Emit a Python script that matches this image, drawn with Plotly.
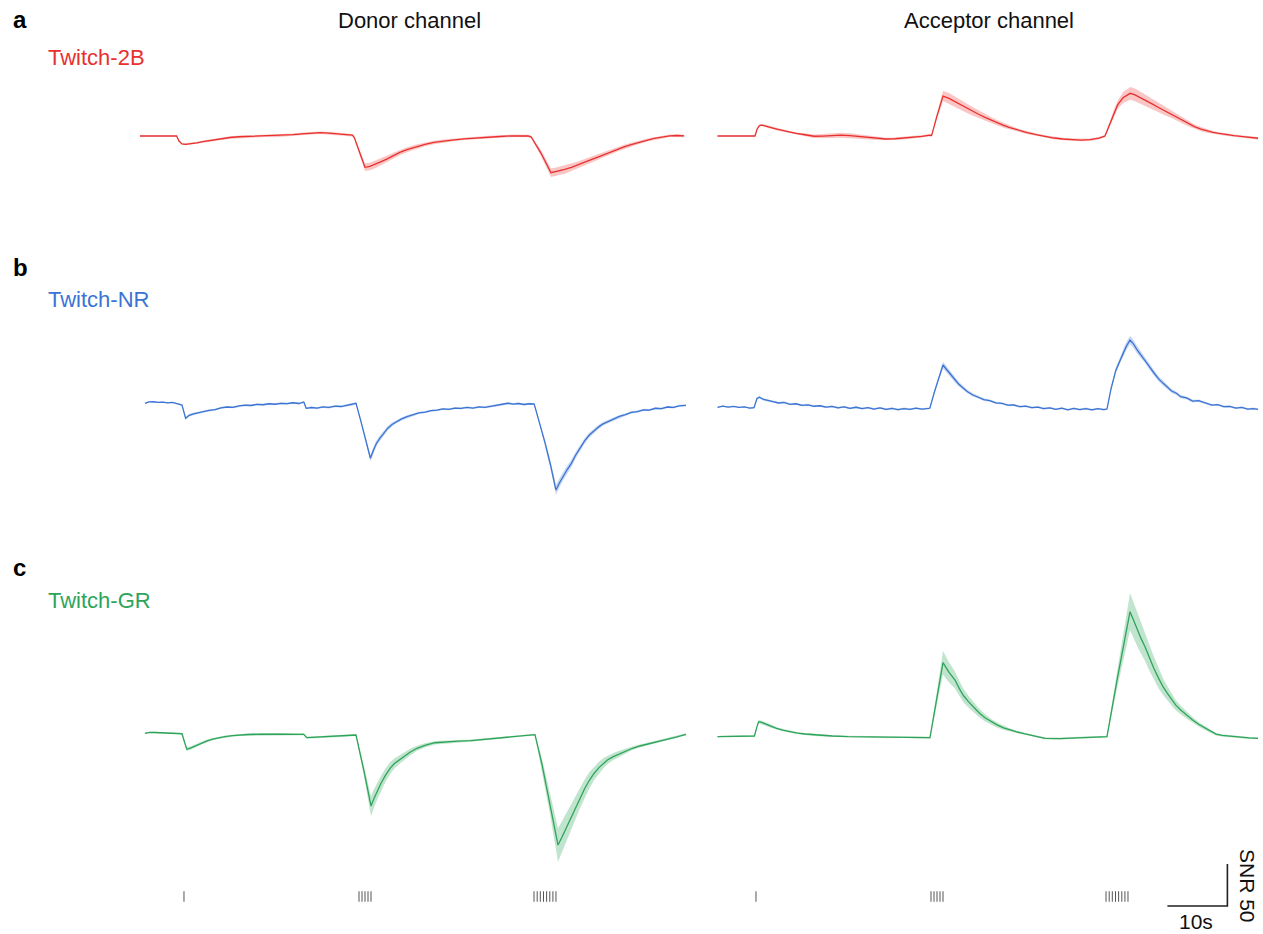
import plotly.graph_objects as go

# ---------------- data (time in s, signal in SNR units, relative to pre-stimulus level) -------------
# Row a: Twitch-2B
RED_DON_T = [0, 3, 6.1, 6.5, 7.0, 7.6, 8.5, 9.5, 10.5, 12, 13.5, 15, 16.5, 18, 19.5, 21, 22.5, 24, 25.5, 27,
             28.5, 30, 31.5, 33, 34.5, 35.4, 35.7, 36.6, 37.5, 38.3, 39.2, 40.2, 41.2, 42.2, 43.3, 44.5, 46,
             47.5, 49, 50.5, 52, 54, 56, 58, 60, 62, 64.7, 65.2, 66.8, 68.5, 69.7, 70.8, 71.9, 73, 74.1, 75.2,
             76.2, 77.4, 78.6, 79.7, 80.8, 82, 83.2, 84.4, 85.7, 87, 88.3, 89.5, 90.7]
RED_DON_V = [0, 0, 0, -6, -9.5, -9.9, -9.3, -8.2, -6.8, -4.9, -3.2, -1.8, -0.9, -0.6, -0.2, 0.3, 0.1, 0.9, 1.6, 2.6,
             3.3, 3.9, 3.5, 2.6, 1.6, 1.0, -1.5, -20, -37.3, -36.2, -33.8, -30.6, -27.2, -23.5, -19.6, -16.3, -12.8,
             -9.9, -7.7, -6.1, -4.9, -3.4, -2.2, -1.3, -0.6, 0.2, 0, -1.2, -20, -43.7, -42, -39.8, -37.3, -34.5,
             -31.3, -28.2, -25.4, -22, -18.4, -15.4, -12.7, -10, -7.4, -5, -2.9, -1.4, 0.2, 0.6, 0.1]
RED_DON_E = [0.3, 0.3, 0.3, 0.8, 1, 1.2, 1.2, 1.3, 1.5, 1.5, 1.5, 1.5, 1.5, 1.5, 1.5, 1.5, 1.5, 1.5, 1.5, 1.5,
             1.5, 1.5, 1.5, 1.5, 1.5, 1.5, 1.5, 3, 4.5, 4.5, 4.5, 4.2, 4, 3.6, 3.2, 3, 2.6,
             2.2, 2, 1.8, 1.6, 1.5, 1.5, 1.5, 1.5, 1.5, 1.5, 1.5, 3.5, 5, 5, 5, 4.5, 4.2, 4, 3.7,
             3.5, 3.2, 3, 2.7, 2.5, 2.2, 2, 1.8, 1.5, 1.5, 1.5, 1.5, 1.5]

RED_ACC_T = [0.92, 4, 7.17, 7.5, 7.9, 8.3, 9.0, 10, 11, 12, 13, 14, 15.5, 17, 18.5, 20, 21.5, 23, 24.5, 26,
             27.5, 29, 30.5, 32, 33.5, 35, 36.3, 36.6, 37.5, 38.5, 39.5, 40.5, 41.5, 42.5, 43.5, 44.5, 45.5,
             46.5, 47.5, 48.5, 49.5, 50.5, 51.5, 52.5, 54, 55.5, 57, 58.5, 60, 61.5, 63, 64.5, 65.5, 66.3, 66.8,
             67.6, 68.5, 69.7, 70.5, 71.5, 72.5, 73.5, 74.5, 75.5, 76.5, 77.5, 78.5, 79.5, 80.5, 81.5, 82.5,
             83.5, 84.5, 85.5, 87, 88.5, 90, 91]
RED_ACC_V = [0, 0, 0, 8, 12.5, 13.0, 12.0, 9.8, 7.8, 5.9, 4.3, 3.0, 1.5, -0.3, -0.2, 0.6, 1.0, 0.4, -0.6, -1.7,
             -2.9, -3.6, -3.3, -2.6, -1.6, -0.4, 1.0, 0.5, 24, 47.6, 44.8, 40.8, 37, 33, 29.2, 25.6, 22.2,
             19, 15.9, 13, 10.4, 8.1, 6, 4.1, 1.7, -0.5, -2.4, -3.6, -4.4, -4.8, -4.4, -2.6, 0, 14, 24,
             37, 45.5, 50.8, 49, 45.4, 41.6, 37.6, 33.6, 29.8, 26.2, 22.4, 18, 14.2, 10.8, 8.2, 6.0,
             4.3, 3.0, 1.8, 0.4, -0.8, -2.0, -2.7]
RED_ACC_E = [0.3, 0.3, 0.3, 0.8, 1, 1.2, 1.4, 1.5, 1.5, 1.5, 1.5, 1.5, 1.6, 2, 2.5, 3, 3, 3, 2.5, 2,
             1.8, 1.5, 1.5, 1.5, 1.5, 1.5, 1.5, 1.5, 3.5, 6, 6.5, 6.5, 6, 5.5, 5, 4.5, 4,
             3.6, 3.2, 2.8, 2.4, 2, 1.8, 1.6, 1.5, 1.5, 1.5, 1.5, 1.5, 1.5, 1.5, 1.5, 1.5, 3, 4,
             5, 6.5, 7.5, 7.5, 7, 6.5, 6, 5.5, 5, 4.5, 4, 3.5, 3, 2.7, 2.4, 2.1,
             1.8, 1.6, 1.5, 1.5, 1.5, 1.5, 1.5]

# Row b: Twitch-NR
BLU_DON_T = [0.83, 1.5, 2.2, 3, 3.8, 4.6, 5.4, 6.1, 7.0, 7.6, 8.2, 8.9, 9.7, 10.6, 11.5, 12.5, 13.5, 14.5, 15.5,
             16.5, 17.5, 18.5, 19.5, 20.5, 21.5, 22.5, 23.5, 24.5, 25.5, 26.5, 27.3, 27.7, 28.6, 29.5, 30.5,
             31.5, 32.5, 33.5, 34.5, 35.4, 36.0, 36.8, 37.6, 38.4, 38.9, 39.4, 40.0, 40.6, 41.3, 42.0, 42.8,
             43.6, 44.5, 45.5, 46.5, 47.5, 48.5, 49.5, 50.5, 51.5, 52.5, 53.5, 54.5, 55.5, 56.5, 57.5, 58.5,
             59.5, 60.5, 61.3, 62.2, 63.1, 64, 65.0, 65.7, 66.6, 67.5, 68.4, 69.33, 69.9, 70.5, 71.2, 71.9,
             72.6, 73.4, 74.1, 74.9, 75.6, 76.4, 77.1, 77.9, 78.9, 79.9, 80.9, 81.9, 82.9, 83.9, 84.9, 85.9,
             86.9, 87.9, 88.9, 89.9, 91.0]
BLU_DON_V = [0.8, 2.5, 2.7, 2.0, 2.3, 1.4, 1.9, 0.8, -1.2, -17.0, -13.5, -11.8, -10.3, -8.9, -7.6, -6.8, -4.6,
             -3.6, -3.9, -2.2, -1.4, -1.8, -0.4, -0.9, 0.3, -0.3, 0.8, 0.4, 1.5, 0.6, 2.4, -5.1, -4.2, -5.0,
             -3.5, -4.1, -2.6, -3.0, -1.6, -0.9, 0.8, -20, -42, -64.6, -55, -47, -40.5, -34.5, -28.8, -24.4,
             -20.6, -17.8, -15.1, -12.9, -10.6, -9.8, -7.9, -7.4, -5.9, -6.3, -4.9, -5.3, -4.1, -4.8, -3.5,
             -4.0, -2.8, -1.9, -0.5, 0.9, -0.1, 0.6, -0.6, 0.3, 0, -22, -46, -72, -102.4, -94, -86, -78,
             -70.6, -61, -52, -44, -36.9, -32, -27.5, -24, -21.1, -18.3, -14.8, -12.7, -9.9, -9.2, -6.9, -7.3,
             -5.1, -5.6, -3.6, -4.1, -2.2, -1.6]
BLU_DON_E = [0.8, 0.8, 0.8, 0.8, 0.8, 0.8, 0.8, 0.8, 1, 1.5, 1.5, 1.5, 1.5, 1.3, 1.2, 1.2, 1.2, 1.2, 1.2,
             1.2, 1.2, 1.2, 1.2, 1.2, 1.2, 1.2, 1.2, 1.2, 1.2, 1.2, 1.2, 1.2, 1.2, 1.2, 1.2,
             1.2, 1.2, 1.2, 1.2, 1.2, 1.2, 2, 3, 4, 3.8, 3.5, 3.2, 3, 2.6, 2.3, 2,
             1.8, 1.6, 1.5, 1.4, 1.3, 1.2, 1.2, 1.2, 1.2, 1.2, 1.2, 1.2, 1.2, 1.2, 1.2, 1.2,
             1.2, 1.2, 1.2, 1.2, 1.2, 1.2, 1.2, 1.2, 2.5, 3.5, 4.8, 6, 5.5, 5, 4.8, 4.5,
             4, 3.5, 3.2, 3, 2.7, 2.5, 2.2, 2, 1.8, 1.6, 1.5, 1.5, 1.4, 1.3, 1.2, 1.2,
             1.2, 1.2, 1.2, 1.2, 1.2]

BLU_ACC_T = [0.92, 1.8, 2.7, 3.6, 4.5, 5.4, 6.3, 7.0, 7.5, 7.9, 8.6, 9.3, 10.2, 11.1, 12, 13, 14, 15, 16, 17,
             18, 19, 20, 21, 22, 23, 24, 25, 26, 27, 28, 29, 30, 31, 32, 33, 34, 35, 36.3, 37.1, 37.8, 38.5,
             39.0, 39.5, 40.0, 40.5, 41.1, 41.8, 42.6, 43.5, 44.4, 45.3, 46.3, 47.3, 48.3, 49.3, 50.3, 51.3,
             52.3, 53.3, 54.3, 55.3, 56.3, 57.3, 58.3, 59.3, 60.3, 61.3, 62.3, 63.3, 64.3, 65.3, 65.83, 66.5,
             67.3, 68.2, 69.0, 69.67, 70.2, 70.8, 71.5, 72.2, 72.9, 73.6, 74.4, 75.2, 75.9, 76.6, 77.4, 78.1,
             79.1, 80.1, 81.1, 82.3, 83.3, 84.3, 85.3, 86.3, 87.3, 88.3, 89.3, 90.2, 91.0]
BLU_ACC_V = [-3.9, -2.6, -3.8, -2.9, -4.1, -3.4, -5.0, -4.4, 6.5, 8.0, 5.4, 3.9, 2.8, 1.2, 1.9, -0.4, 0.3, -1.6,
             -1.0, -2.7, -2.1, -3.8, -2.9, -4.5, -3.4, -5.1, -3.9, -5.4, -4.4, -6.0, -4.6, -6.4, -5.2, -6.8,
             -5.5, -6.3, -5.0, -6.2, -5.1, 15, 32, 46.4, 42, 37.5, 32.8, 28.6, 23.8, 19.4, 14.6, 10.7, 8.3,
             5.2, 4.1, 1.3, 0.8, -1.4, -1.2, -3.2, -2.6, -4.4, -3.7, -5.5, -4.6, -6.3, -5.0, -6.9, -5.3, -6.6,
             -5.4, -7.0, -5.6, -6.6, -6.0, 18, 40, 56, 68, 76.2, 72, 65, 58.5, 52.4, 44.5, 37.5, 30.2, 24.6,
             20.6, 15.5, 12.8, 8.7, 7.2, 3.5, 3.9, 0.8, -1.3, -0.8, -3.2, -2.9, -4.8, -4.1, -6.2, -5.4, -6.3]
BLU_ACC_E = [0.8, 0.8, 0.8, 0.8, 0.8, 0.8, 0.8, 1, 1.3, 1.5, 1.4, 1.3, 1.2, 1.2, 1.2, 1.2, 1.2, 1.2, 1.2, 1.2,
             1.2, 1.2, 1.2, 1.2, 1.2, 1.2, 1.2, 1.2, 1.2, 1.2, 1.2, 1.2, 1.2, 1.2, 1.2, 1.2, 1.2, 1.2, 1.2,
             2.5, 3.5, 4, 3.8, 3.5, 3.2, 3, 2.8, 2.5, 2.2, 2, 1.8, 1.6, 1.4, 1.3, 1.2, 1.2, 1.2, 1.2, 1.2,
             1.2, 1.2, 1.2, 1.2, 1.2, 1.2, 1.2, 1.2, 1.2, 1.2, 1.2, 1.2, 1.2, 1.2, 2.5, 3.5, 4.2, 4.8, 5,
             4.8, 4.5, 4.2, 4, 3.8, 3.5, 3.2, 3, 2.7, 2.5, 2.2, 2, 1.8, 1.6, 1.4, 1.3, 1.2, 1.2, 1.2, 1.2,
             1.2, 1.2, 1.2, 1.2, 1.2]

# Row c: Twitch-GR
GRN_DON_T = [0.83, 1.6, 2.5, 3.5, 4.5, 5.5, 6.5, 7.0, 7.4, 7.8, 8.4, 9.0, 9.7, 10.4, 11.2, 12.1, 13.1, 14.2,
             15.4, 16.7, 18, 20, 22, 24, 26, 27.3, 27.8, 30, 32, 34, 36, 37.3, 38.5, 39.0, 39.6, 40.17, 40.9,
             41.7, 42.4, 43.17, 44, 45, 46.17, 47.6, 49.17, 51, 53, 55.17, 58, 61.17, 63.5, 65.83, 67.0, 68.3,
             69.67, 70.3, 70.9, 71.5, 71.92, 72.6, 73.3, 74.1, 74.92, 75.7, 76.5, 77.2, 77.9, 78.9, 80, 81,
             82.08, 83.3, 84.5, 85.7, 86.83, 88, 89.5, 91.0]
GRN_DON_V = [2.0, 3.2, 3.0, 2.6, 2.4, 2.0, 2.2, 1.5, -8, -17.0, -15.6, -13.6, -11.2, -9.0, -7.0, -5.0, -3.3,
             -1.9, -0.8, 0.0, 0.6, 1.0, 1.2, 0.9, 0.7, 0.8, -3.2, -2.4, -1.7, -0.8, 0, -42, -84.5, -75.5, -66,
             -57.5, -48, -39.5, -34, -29.8, -25.3, -20.5, -15.8, -12, -9.2, -8.0, -7.4, -6.8, -4.8, -2.0, -0.6,
             0.4, -35, -80, -131.0, -122, -113, -103.5, -97.3, -86, -75, -64, -53.6, -45.5, -38.8, -33.8,
             -29.8, -25.7, -22, -18.6, -15.8, -13.1, -10.8, -8.7, -6.8, -4.8, -2.3, 0.8]
GRN_DON_E = [0.8, 0.8, 0.8, 0.8, 0.8, 0.8, 0.8, 0.8, 1.5, 2, 2, 2, 1.8, 1.6, 1.5, 1.4, 1.3, 1.2,
             1.2, 1.2, 1.2, 1.2, 1.2, 1.2, 1.2, 1.2, 1.2, 1.2, 1.2, 1.2, 1.2, 6, 12, 11, 10, 9, 8,
             7, 6, 5, 4.5, 4, 3, 2.5, 2, 1.7, 1.5, 1.3, 1.2, 1.2, 1.2, 1.2, 7, 13,
             20, 19, 18, 16, 15, 14, 12.5, 11, 9.5, 8, 7, 6, 5, 4.2, 3.5, 2.8,
             2.2, 1.8, 1.5, 1.3, 1.2, 1.2, 1.2, 1.2]

GRN_ACC_T = [0.92, 4, 7.07, 7.5, 7.77, 8.3, 9.0, 9.8, 10.75, 11.8, 13, 14.2, 15.5, 17.5, 20, 22.67, 26, 29, 32,
             34, 36.33, 38.5, 39.0, 39.5, 40.0, 40.5, 41.2, 41.9, 42.7, 43.5, 44.5, 45.5, 46.5, 47.5, 48.6,
             49.6, 50.67, 52, 53.5, 55.5, 58, 60, 62, 64, 65.83, 67.5, 69.67, 70.3, 70.9, 71.5, 72.17, 72.9,
             73.6, 74.4, 75.17, 75.9, 76.6, 77.3, 78.12, 79, 80, 81.1, 82.28, 83.2, 84.0, 85, 86.5, 88, 89.5,
             91]
GRN_ACC_V = [-2.0, -1.6, -1.2, 10, 15.8, 15, 12.8, 10.5, 8.0, 5.8, 3.8, 2.3, 1.2, -0.2, -1.2, -2.0, -2.2, -2.8,
             -2.5, -3.0, -3.2, 86.1, 80, 74.5, 70, 65.5, 55.5, 47, 40, 33.7, 26.5, 20.5, 15.8, 12, 8.5, 6,
             3.9, 1.5, -0.8, -3.9, -4.2, -3.5, -3.0, -2.4, -2.0, 65, 146.8, 136, 125, 115, 105.1, 92, 80, 68,
             57.5, 49.5, 42, 35.5, 29.8, 24, 18.5, 12.8, 8.0, 4, 1.0, -0.5, -1.6, -2.8, -3.5, -3.9]
GRN_ACC_E = [0.8, 0.8, 0.8, 1.5, 2, 2, 2, 1.8, 1.5, 1.3, 1.2, 1.2, 1.2, 1.2, 1.2, 1.2, 1.2, 1.2, 1.2,
             1.2, 1.2, 14, 13, 12, 11, 10, 9, 8, 7, 6, 5, 4.5, 3.5, 3, 2.5, 2, 1.5, 1.3, 1.2, 1.2, 1.2,
             1.2, 1.2, 1.2, 1.2, 10, 22, 21, 20, 18.5, 17, 15.5, 14, 12, 10, 8.5, 7, 6, 5, 4.2, 3.5, 2.8,
             2.5, 2, 1.5, 1.3, 1.2, 1.2, 1.2, 1.2]

STIM_T = [7.33,
          36.5, 37.0, 37.5, 38.0, 38.5,
          65.67, 66.2, 66.72, 67.25, 67.77, 68.3, 68.82, 69.33]

SCALE_T0 = 75.9     # s, start of the time scale bar (acceptor axis)
SCALE_T = 10        # s
SCALE_SNR = 50      # SNR units
SCALE_Y0 = -203.6   # SNR, baseline of scale bar on bottom row axis

ROW_NAMES = ["Twitch-2B", "Twitch-NR", "Twitch-GR"]
ROW_LETTERS = ["a", "b", "c"]
COL_TITLES = ["Donor channel", "Acceptor channel"]
COLORS = ["#E8312F", "#3B74D3", "#2EA45A"]
BANDS = ["rgba(232,49,47,0.28)", "rgba(59,116,211,0.28)", "rgba(46,164,90,0.30)"]

# ---------------- layout helpers ----------------
W, H = 1263, 934
K = 0.84  # px per SNR unit


def dom_x(a, b):
    return [a / W, b / W]


def dom_y(top, bottom):
    return [1 - bottom / H, 1 - top / H]


def yrange(base, top, bottom):
    return [(base - bottom) / K, (base - top) / K]


fig = go.Figure()

rows = [
    (RED_DON_T, RED_DON_V, RED_DON_E, RED_ACC_T, RED_ACC_V, RED_ACC_E),
    (BLU_DON_T, BLU_DON_V, BLU_DON_E, BLU_ACC_T, BLU_ACC_V, BLU_ACC_E),
    (GRN_DON_T, GRN_DON_V, GRN_DON_E, GRN_ACC_T, GRN_ACC_V, GRN_ACC_E),
]
yaxes = ["y", "y2", "y3"]
for i, (dt, dv, de, at, av, ae) in enumerate(rows):
    for xa, t, v, e in (("x", dt, dv, de), ("x2", at, av, ae)):
        n = min(len(t), len(v), len(e))
        t, v, e = list(t[:n]), list(v[:n]), list(e[:n])
        up = [a + b for a, b in zip(v, e)]
        lo = [a - b for a, b in zip(v, e)]
        fig.add_trace(go.Scatter(x=t + t[::-1], y=up + lo[::-1], fill="toself",
                                 fillcolor=BANDS[i], line=dict(width=0), mode="lines",
                                 xaxis=xa, yaxis=yaxes[i], hoverinfo="skip", showlegend=False))
        fig.add_trace(go.Scatter(x=t, y=v, mode="lines", line=dict(color=COLORS[i], width=1.3),
                                 xaxis=xa, yaxis=yaxes[i], showlegend=False))

# stimulus ticks
sx, sy = [], []
for s in STIM_T:
    sx += [s, s, None]
    sy += [0, 1, None]
for xa in ("x", "x2"):
    fig.add_trace(go.Scatter(x=sx, y=sy, mode="lines", line=dict(color="#555555", width=1),
                             xaxis=xa, yaxis="y4", hoverinfo="skip", showlegend=False))

# scale bar
fig.add_trace(go.Scatter(x=[SCALE_T0, SCALE_T0 + SCALE_T, SCALE_T0 + SCALE_T],
                         y=[SCALE_Y0, SCALE_Y0, SCALE_Y0 + SCALE_SNR], mode="lines",
                         line=dict(color="#222222", width=1.6), xaxis="x2", yaxis="y3",
                         hoverinfo="skip", showlegend=False))

ax_off = dict(visible=False, showgrid=False, zeroline=False, fixedrange=True)
layout = dict(
    width=W, height=H, autosize=False,
    margin=dict(l=0, r=0, t=0, b=0),
    paper_bgcolor="white", plot_bgcolor="rgba(0,0,0,0)",
    font=dict(family="Liberation Sans, Arial, sans-serif", color="#111111"),
    showlegend=False,
    xaxis=dict(domain=dom_x(140, 692), range=[0, (692 - 140) / 6], anchor="y", **ax_off),
    xaxis2=dict(domain=dom_x(712, 1262), range=[0, (1262 - 712) / 6], anchor="y", **ax_off),
    yaxis=dict(domain=dom_y(40, 232), range=yrange(136, 40, 232), anchor="x", **ax_off),
    yaxis2=dict(domain=dom_y(240, 540), range=yrange(404, 240, 540), anchor="x", **ax_off),
    yaxis3=dict(domain=dom_y(545, 930), range=yrange(735, 545, 930), anchor="x", **ax_off),
    yaxis4=dict(domain=dom_y(886, 907), range=[-0.5, 1.5], anchor="x", **ax_off),
)
fig.update_layout(**layout)

ann = []
for txt, cx in zip(COL_TITLES, [409, 989]):
    ann.append(dict(text=txt, x=cx / W, y=1 - 21 / H, xref="paper", yref="paper",
                    xanchor="center", yanchor="middle", showarrow=False,
                    font=dict(size=22, color="#111111")))
for letter, ly, name, ny, col in zip(ROW_LETTERS, [19, 268, 567], ROW_NAMES, [57, 299, 600], COLORS):
    ann.append(dict(text="<b>%s</b>" % letter, x=11 / W, y=1 - ly / H, xref="paper", yref="paper",
                    xanchor="left", yanchor="middle", showarrow=False,
                    font=dict(size=24, color="#000000")))
    ann.append(dict(text=name, x=46 / W, y=1 - ny / H, xref="paper", yref="paper",
                    xanchor="left", yanchor="middle", showarrow=False,
                    font=dict(size=22, color=col)))
ann.append(dict(text="10s", x=1196 / W, y=1 - 921 / H, xref="paper", yref="paper",
                xanchor="center", yanchor="middle", showarrow=False, font=dict(size=21, color="#111111")))
ann.append(dict(text="SNR 50", x=1248 / W, y=1 - 886 / H, xref="paper", yref="paper",
                xanchor="center", yanchor="middle", showarrow=False, textangle=90,
                font=dict(size=21, color="#111111")))
fig.update_layout(annotations=ann)

fig.write_html("out.html", config={"displayModeBar": False},
               post_script="document.body.style.margin='0';document.body.style.overflow='hidden';")
